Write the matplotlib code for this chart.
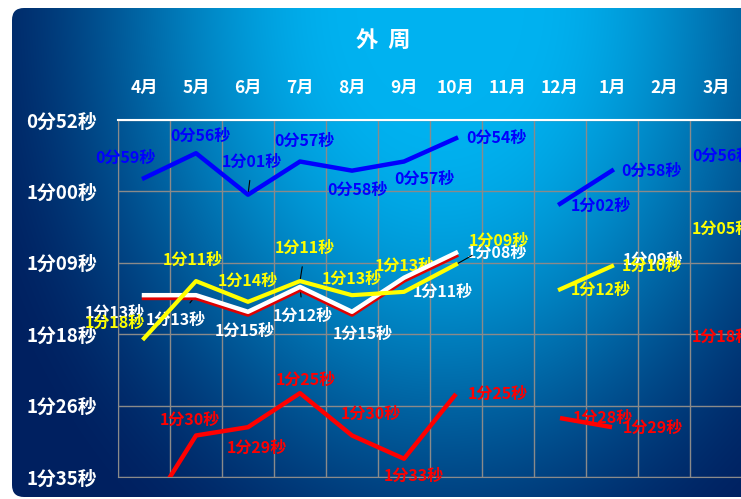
import numpy as np
import matplotlib
matplotlib.use("Agg")
import matplotlib.pyplot as plt
import matplotlib.patheffects as pe
from matplotlib.patches import FancyBboxPatch

plt.rcParams['font.family'] = ['Noto Sans CJK JP', 'DejaVu Sans']

# data: lap times in seconds, None = no record
months = ['4月', '5月', '6月', '7月', '8月', '9月', '10月', '11月', '12月', '1月', '2月', '3月']
blue = [59, 56, 61, 57, 58.1, 57, 54.2, None, 62.1, 58.1, None, 56]
yellow = [78.3, 71.4, 73.9, 71.4, 73.1, 72.7, 69.4, None, 72.4, 69.6, None, 65]
white = [73.1, 73.1, 75.1, 72.1, 75.1, 71.0, 68.0, None, None, 69.4, None, None]
red = [100, 90, 89, 84.9, 90, 92.8, 85, None, 87.9, 89, None, 78]

ytick_vals = [52, 60.6, 69.2, 77.8, 86.4, 95]
ytick_labels = ['0分52秒', '1分00秒', '1分09秒', '1分18秒', '1分26秒', '1分35秒']


def fmt(v):
    s = int(round(v))
    return '%d分%02d秒' % (s // 60, s % 60)


W, H = 741, 499
fig = plt.figure(figsize=(W / 100, H / 100), dpi=100)

# background gradient panel
bg = fig.add_axes([0, 0, 1, 1], zorder=-5)
bg.set_xlim(0, W)
bg.set_ylim(H, 0)
bg.axis('off')
yy, xx = np.mgrid[0:H, 0:W]
d = np.sqrt(((xx - 440) / 420.0) ** 2 + ((yy - 0) / 560.0) ** 2)
t = np.clip((d - 0.2) / 1.0, 0, 1)
t = t * t * (3 - 2 * t)
c1 = np.array([0, 178, 240]) / 255.0
c2 = np.array([0, 32, 96]) / 255.0
img = c1[None, None, :] * (1 - t[..., None]) + c2[None, None, :] * t[..., None]
im = bg.imshow(img, extent=(0, W, H, 0), interpolation='bilinear')
panel = FancyBboxPatch((12, 8), 780, 489, boxstyle='round,pad=0,rounding_size=12',
                       transform=bg.transData, facecolor='none', edgecolor='none')
bg.add_patch(panel)
im.set_clip_path(panel)

# plot area
ax = fig.add_axes([118 / W, 22 / H, 624 / W, 357 / H])
ax.set_facecolor('none')
ax.set_xlim(-0.5, 11.5)
ax.set_ylim(95, 52)
ax.set_xticks(np.arange(-0.5, 12, 1))
ax.set_xticklabels([])
ax.set_yticks(ytick_vals)
ax.set_yticklabels(ytick_labels, color='white', fontsize=13.5, fontweight='bold')
ax.tick_params(length=0, pad=15)
ax.grid(True, color='#8a8a8a', lw=1)
for s in ['left', 'bottom']:
    ax.spines[s].set_color('#8a8a8a')
ax.spines['top'].set_color('white')
ax.spines['top'].set_linewidth(1.5)
ax.spines['right'].set_visible(False)

x = np.arange(len(months))
for i, m in enumerate(months):
    ax.text(i, 1.09, m, transform=ax.get_xaxis_transform(), ha='center', va='center',
            color='white', fontsize=12.5, fontweight='bold')
fig.text(383 / W, 1 - 40 / H, '外  周', ha='center', va='center', color='white',
         fontsize=16, fontweight='bold')


def series(vals):
    return np.array([np.nan if v is None else v for v in vals], dtype=float)


def labels(vals, color, offs, leaders=()):
    for i, v in enumerate(vals):
        if v is None or v > 95 or offs[i] is None:
            continue
        dx, dy = offs[i]
        kw = {}
        if i in leaders:
            kw['arrowprops'] = dict(arrowstyle='-', color='black', lw=0.8, shrinkA=6, shrinkB=0)
        ax.annotate(fmt(v), (i, v), xytext=(dx * 0.75, dy * 0.75), textcoords='offset points',
                    ha='center', va='center', color=color, fontsize=11.5, fontweight='bold',
                    annotation_clip=False, **kw)


ax.plot(x, series(red), color='#ff0000', lw=3.2, solid_capstyle='butt', zorder=3)
ax.plot(x, series(white), color='white', lw=3.2, zorder=4,
        path_effects=[pe.SimpleLineShadow(offset=(0, -2), shadow_color='#e00000', alpha=1),
                      pe.Normal()])
ax.plot(x, series(yellow), color='#ffff00', lw=3, zorder=5)
ax.plot(x, series(blue), color='#0000ff', lw=3.2, zorder=5)

labels(blue, '#0000ff', [(-18, 19), (4, 17), (4, 32), (4, 20), (5, -18), (20, -17), (39, 0),
                         None, (39, -2), (38, 0), None, (6, -3)], leaders=(2,))
labels(white, 'white', [(-28, -17), (-19, -24), (-3, -18), (3, -28), (10, -21), (37, -14), (39, 0),
                        None, None, (39, 4), None, None], leaders=(1, 3, 5))
labels(yellow, '#ffff00', [(-28, 15), (-3, 20), (0, 20), (5, 32), (0, 16), (1, 25), (41, 23),
                           None, (39, 0), (38, 0), None, (6, -1)], leaders=(3, 6))
labels(red, '#ff0000', [None, (-6, 15), (9, -20), (6, 13), (18, 21), (9, -16), (40, 0),
                        None, (41, 0), (39, -1), None, (6, -1)])

fig.savefig('out.png', dpi=100)
